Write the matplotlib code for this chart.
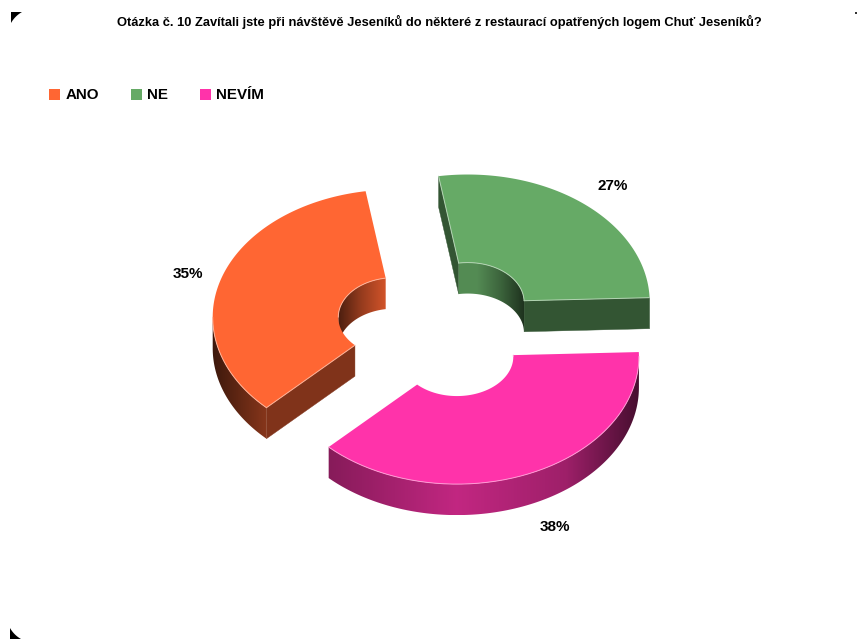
import numpy as np
import matplotlib
matplotlib.use("Agg")
import matplotlib.pyplot as plt
from matplotlib.patches import Polygon, Rectangle

labels = ["ANO", "NE", "NEVÍM"]
values = [35, 27, 38]
colors = ["#FF6633", "#66AA66", "#FF33AA"]
label_xy = [(188, 274), (613, 186), (555, 527)]
legend_x = [49, 131, 200]

title = "Otázka č. 10 Zavítali jste při návštěvě Jeseníků do některé z restaurací opatřených logem Chuť Jeseníků?"

plt.rcParams["font.family"] = ["Liberation Sans", "DejaVu Sans"]
plt.rcParams["font.weight"] = "bold"

# pie geometry in pixels
cx, cy = 438.5, 327
rx, ry = 182, 127.6
inner = 0.31
explode = 46
depth = 31
start = 224.8


def point(center, ang, r):
    a = np.radians(ang)
    return center[0] + r * rx * np.sin(a), center[1] - r * ry * np.cos(a)


def outer_shade(s):
    return np.interp(s, [-1, -0.7, 0, 0.6, 1], [0.24, 0.53, 0.76, 0.62, 0.28])


def inner_shade(s):
    return np.interp(abs(s), [0.16, 0.6, 1], [0.82, 0.58, 0.3])


def rim_line(ax, pts, base):
    xs, ys = zip(*pts)
    ax.plot(xs, ys, color=base + (1 - base) * 0.5, lw=0.7, zorder=4, solid_capstyle="round")


def wall(ax, center, a0, a1, r, base, shade):
    # curved side: a horizontal gradient clipped to the band under the arc
    angs = np.linspace(a0, a1, 150)
    arc = [point(center, a, r) for a in angs]
    low = [(x, y + depth) for x, y in arc[::-1]]
    xs = np.array([p[0] for p in arc])
    ys = np.array([p[1] for p in arc])
    x0, x1 = xs.min(), xs.max()
    col = np.arange(np.floor(x0), np.ceil(x1) + 1)
    grad = np.outer(shade((col - center[0]) / (r * rx)), base)[None, :, :]
    im = ax.imshow(np.clip(grad, 0, 1), extent=[col[0], col[-1], ys.max() + depth, ys.min()],
                   aspect="auto", interpolation="bilinear", zorder=2)
    clip = Polygon(arc + low, transform=ax.transData)
    im.set_clip_path(clip)
    rim_line(ax, arc, base)


def cut(ax, center, ang, base):
    p, q = point(center, ang, inner), point(center, ang, 1)
    ax.add_patch(Polygon([p, q, (q[0], q[1] + depth), (p[0], p[1] + depth)],
                         facecolor=base * 0.5, edgecolor=base * 0.5, lw=0.3, zorder=2))
    rim_line(ax, [p, q], base)


fig = plt.figure(figsize=(8.57, 6.39), dpi=100)
ax = fig.add_axes([0, 0, 1, 1])

# slices run clockwise from the top of the ellipse
total = sum(values)
a0 = start
for i in range(len(values)):
    sweep = 360 * values[i] / total
    a1 = a0 + sweep
    mid = np.radians(a0 + sweep / 2)
    center = (cx + explode * np.sin(mid), cy - explode * 0.7 * np.cos(mid))
    base = np.array(matplotlib.colors.to_rgb(colors[i]))

    # flat cut faces only show when they turn towards the viewer
    if np.sin(np.radians(a0)) < 0:
        cut(ax, center, a0, base)
    if np.sin(np.radians(a1)) > 0:
        cut(ax, center, a1, base)

    # the far half of the hole and the near half of the rim are visible
    for k in (-360, 0, 360):
        lo, hi = max(a0, k - 90), min(a1, k + 90)
        if lo < hi:
            wall(ax, center, lo, hi, inner, base, inner_shade)
        lo, hi = max(a0, k + 90), min(a1, k + 270)
        if lo < hi:
            wall(ax, center, lo, hi, 1, base, outer_shade)

    angs = np.linspace(a0, a1, 200)
    top = [point(center, a, 1) for a in angs] + [point(center, a, inner) for a in angs[::-1]]
    ax.add_patch(Polygon(top, closed=True, facecolor=colors[i], edgecolor="none", zorder=3))

    a0 = a1

    ax.text(label_xy[i][0], label_xy[i][1], str(values[i]) + "%", fontsize=11,
            ha="center", va="center", color="black", zorder=5)
    ax.add_patch(Rectangle((legend_x[i], 89), 11, 11, facecolor=colors[i], edgecolor="none"))
    ax.text(legend_x[i] + 16.5, 95, labels[i], fontsize=10.9, ha="left", va="center", color="black")

ax.text(439.5, 21.5, title, fontsize=9.3, ha="center", va="center", color="black")

# page corners, black with a curved inner side
t = np.linspace(0, 1, 20)
tl = [((1 - v) ** 2 * 22 + 2 * v * (1 - v) * 15 + v ** 2 * 11,
       (1 - v) ** 2 * 12 + 2 * v * (1 - v) * 16 + v ** 2 * 23) for v in t]
ax.add_patch(Polygon([(11, 12)] + tl, facecolor="black", edgecolor="none"))
bl = [((1 - v) ** 2 * 10 + 2 * v * (1 - v) * 14 + v ** 2 * 21,
       (1 - v) ** 2 * 628 + 2 * v * (1 - v) * 635 + v ** 2 * 639) for v in t]
ax.add_patch(Polygon([(10, 639)] + bl, facecolor="black", edgecolor="none"))
ax.add_patch(Rectangle((855, 12), 2, 1.5, facecolor="#333333", edgecolor="none"))

ax.set_xlim(0, 857)
ax.set_ylim(639, 0)
ax.axis("off")

fig.savefig("out.png", dpi=100)
